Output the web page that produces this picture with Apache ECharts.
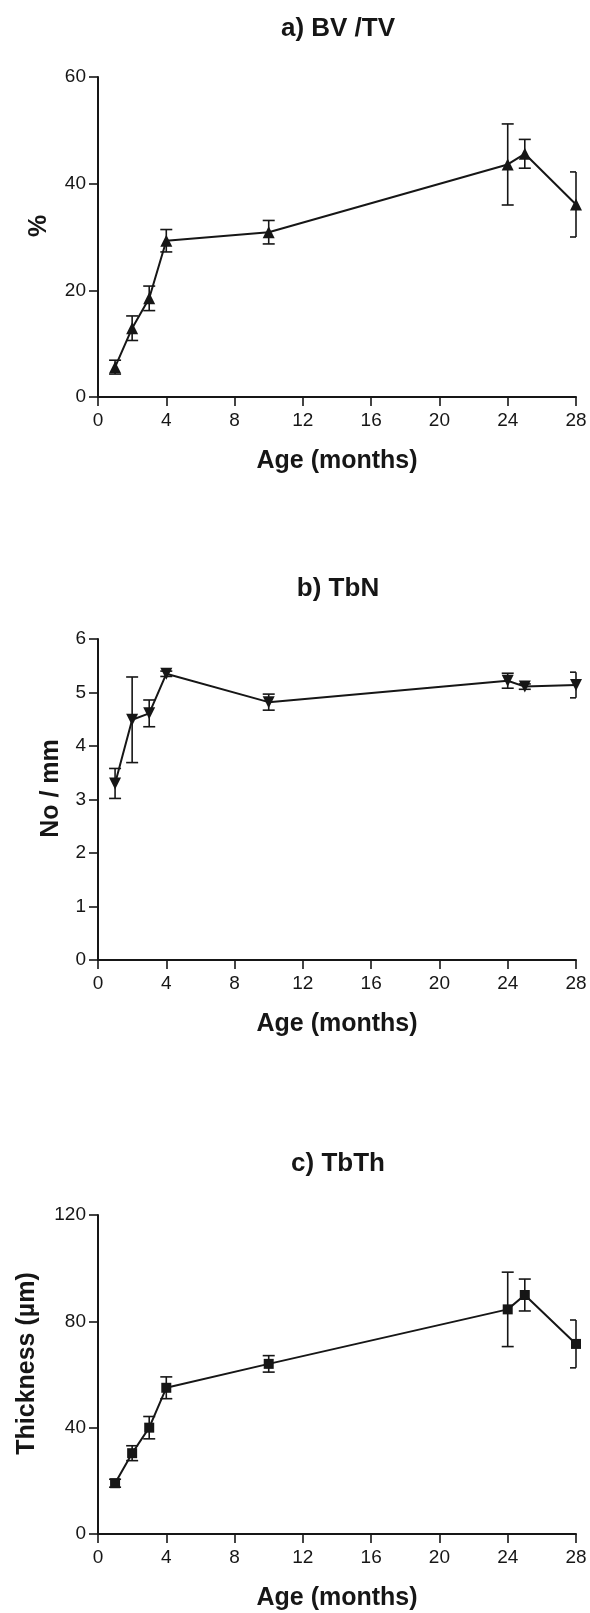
<!DOCTYPE html>
<html>
<head>
<meta charset="utf-8">
<script src="https://cdn.jsdelivr.net/npm/echarts@6/dist/echarts.min.js"></script>
<style>
  html, body { margin: 0; padding: 0; background: #fff; }
  #main { width: 590px; height: 1613px; }
</style>
</head>
<body>
<div id="main"></div>
<script>
// age groups (months)
var ages = [1, 2, 3, 4, 10, 24, 25, 28];

// a) BV/TV (%)
var bvtvMean = [5.6, 12.9, 18.5, 29.3, 30.9, 43.6, 45.6, 36.1];
var bvtvSd   = [1.3, 2.3, 2.3, 2.1, 2.2, 7.6, 2.7, 6.1];

// b) TbN (No / mm)
var tbnMean = [3.30, 4.49, 4.61, 5.35, 4.82, 5.22, 5.11, 5.14];
var tbnSd   = [0.28, 0.80, 0.25, 0.05, 0.15, 0.14, 0.05, 0.24];

// c) TbTh (µm)
var tbthMean = [19.1, 30.4, 40.0, 55.0, 64.0, 84.5, 89.9, 71.5];
var tbthSd   = [1.5, 2.8, 4.2, 4.1, 3.1, 14.0, 6.0, 9.0];

var ink = '#161616';
var font = 'Liberation Sans, Arial, Helvetica, sans-serif';

var chart = echarts.init(document.getElementById('main'));

function points(mean) {
  return ages.map(function (a, i) { return [a, mean[i]]; });
}
function errData(mean, sd) {
  return ages.map(function (a, i) { return [a, mean[i], sd[i]]; });
}

// error bars, caps cut at the right edge of the plot like in the figure
function renderErr(params, api) {
  var x = api.value(0), m = api.value(1), s = api.value(2);
  var top = api.coord([x, m + s]);
  var bot = api.coord([x, m - s]);
  var cs = params.coordSys;
  var right = cs.x + cs.width;
  var w = 6;
  var l = top[0] - w, r = Math.min(top[0] + w, right);
  var st = { stroke: ink, lineWidth: 1.6 };
  return {
    type: 'group',
    children: [
      { type: 'line', shape: { x1: top[0], y1: top[1], x2: bot[0], y2: bot[1] }, style: st },
      { type: 'line', shape: { x1: l, y1: top[1], x2: r, y2: top[1] }, style: st },
      { type: 'line', shape: { x1: l, y1: bot[1], x2: r, y2: bot[1] }, style: st }
    ]
  };
}

var grids = [
  { left: 98, right: 14, top: 77, height: 320 },
  { left: 98, right: 14, top: 639, height: 321 },
  { left: 98, right: 14, top: 1215, height: 319 }
];

function xAxis(i) {
  return {
    type: 'value', gridIndex: i, min: 0, max: 28, interval: 4,
    name: 'Age (months)', nameLocation: 'middle', nameGap: 52,
    nameTextStyle: { fontFamily: font, fontSize: 25, fontWeight: 'bold', color: ink },
    axisLine: { lineStyle: { color: ink, width: 2 } },
    axisTick: { show: true, length: 9, lineStyle: { color: ink, width: 1.6 } },
    axisLabel: { margin: 14, fontFamily: font, fontSize: 19, color: ink },
    splitLine: { show: false }
  };
}
function yAxis(i, max, interval, name, gap) {
  return {
    type: 'value', gridIndex: i, min: 0, max: max, interval: interval,
    name: name, nameLocation: 'middle', nameGap: gap,
    // left padding nudges the rotated name a little above the axis middle
    nameTextStyle: { fontFamily: font, fontSize: 25, fontWeight: 'bold', color: ink, padding: [0, 0, 0, 22] },
    axisLine: { show: true, lineStyle: { color: ink, width: 2 } },
    axisTick: { show: true, length: 9, lineStyle: { color: ink, width: 1.6 } },
    axisLabel: { margin: 12, fontFamily: font, fontSize: 19, color: ink },
    splitLine: { show: false }
  };
}

function lineSeries(i, mean, symbol, size, rot) {
  return {
    type: 'line', xAxisIndex: i, yAxisIndex: i,
    data: points(mean),
    symbol: symbol, symbolSize: size, symbolRotate: rot || 0,
    showSymbol: true,
    lineStyle: { color: ink, width: 2 },
    itemStyle: { color: ink },
    z: 3, animation: false
  };
}
function errSeries(i, mean, sd) {
  return {
    type: 'custom', xAxisIndex: i, yAxisIndex: i,
    data: errData(mean, sd),
    encode: { x: 0, y: 1 },
    renderItem: renderErr,
    clip: false, z: 2, animation: false
  };
}

var titleStyle = { fontFamily: font, fontSize: 26, fontWeight: 'bold', color: ink };

var option = {
  backgroundColor: '#fff',
  animation: false,
  title: [
    { text: 'a) BV /TV', left: 338, top: 16, textAlign: 'center', padding: 0, textStyle: titleStyle },
    { text: 'b) TbN', left: 338, top: 576, textAlign: 'center', padding: 0, textStyle: titleStyle },
    { text: 'c) TbTh', left: 338, top: 1151, textAlign: 'center', padding: 0, textStyle: titleStyle }
  ],
  grid: grids,
  xAxis: [xAxis(0), xAxis(1), xAxis(2)],
  yAxis: [
    yAxis(0, 60, 20, '%', 46),
    yAxis(1, 6, 1, 'No / mm', 34),
    yAxis(2, 120, 40, 'Thickness (µm)', 58)
  ],
  series: [
    errSeries(0, bvtvMean, bvtvSd),
    lineSeries(0, bvtvMean, 'triangle', 12),
    errSeries(1, tbnMean, tbnSd),
    lineSeries(1, tbnMean, 'triangle', 12, 180),
    errSeries(2, tbthMean, tbthSd),
    lineSeries(2, tbthMean, 'rect', 10)
  ]
};

chart.setOption(option);
</script>
</body>
</html>
